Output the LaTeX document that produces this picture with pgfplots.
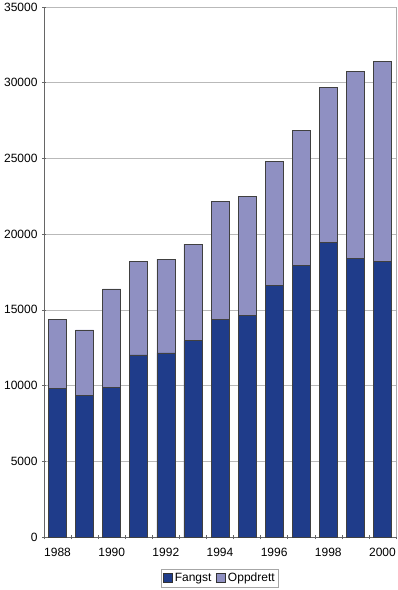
\documentclass[border=0pt]{standalone}
\usepackage{fontspec}
\setmainfont{Liberation Sans}
\usepackage{pgfplots}
\pgfplotsset{compat=1.18}
\definecolor{fangst}{RGB}{31,60,138}
\definecolor{oppdrett}{RGB}{143,144,194}
\begin{document}
\begin{tikzpicture}
\useasboundingbox (-44pt,-53pt) rectangle (353pt,537pt);
\begin{axis}[
  at={(0,0)}, anchor=south west,
  scale only axis,
  width=352pt, height=530pt,
  ybar stacked,
  bar width=18pt,
  xmin=-0.5, xmax=12.5,
  ymin=0, ymax=35000,
  ytick={0,5000,...,35000},
  xtick={0,2,...,12},
  xticklabels={1988,1990,1992,1994,1996,1998,2000},
  major x tick style={draw=none},
  minor xtick={-0.5,0.5,...,12.5},
  minor tick length=4pt,
  major tick length=4pt,
  tick align=outside,
  tick style={gray!80!black, line width=0.5pt},
  axis lines=left,
  axis line style={-, gray!80!black, line width=0.6pt},
  ymajorgrids,
  major grid style={gray!55, line width=0.6pt},
  extra x ticks={12.5},
  extra x tick labels={},
  extra x tick style={grid=major, major grid style={gray!65, line width=0.8pt}, tick style={draw=none}},
  scaled y ticks=false,
  /pgf/number format/1000 sep={},
  /pgf/number format/assume math mode=true,
  ticklabel style={font=\fontsize{12}{14}\selectfont},
  xticklabel style={yshift=-6pt},
  yticklabel style={xshift=-1pt},
  legend style={at={(0.5,0)}, anchor=north, yshift=-32pt, legend columns=-1,
    draw=gray!70, line width=0.5pt, font=\fontsize{12}{14}\selectfont,
    inner sep=2pt, /tikz/every even column/.append style={column sep=3pt}},
  legend image code/.code={\draw[#1, draw=black!80, line width=0.5pt] (0pt,-4pt) rectangle (9pt,5pt);},
  legend cell align=left,
  clip=false,
]
\addplot[fill=fangst, draw=black!75, line width=0.6pt] coordinates {
 (0,9820) (1,9332) (2,9885) (3,12019) (4,12151) (5,12965) (6,14396)
 (7,14660) (8,16641) (9,17941) (10,19460) (11,18402) (12,18182)};
\addplot[fill=oppdrett, draw=black!75, line width=0.6pt] coordinates {
 (0,4557) (1,4338) (2,6493) (3,6186) (4,6207) (5,6384) (6,7772)
 (7,7838) (8,8169) (9,8914) (10,10235) (11,12371) (12,13251)};
\legend{Fangst,Oppdrett}
\end{axis}
\end{tikzpicture}
\end{document}
